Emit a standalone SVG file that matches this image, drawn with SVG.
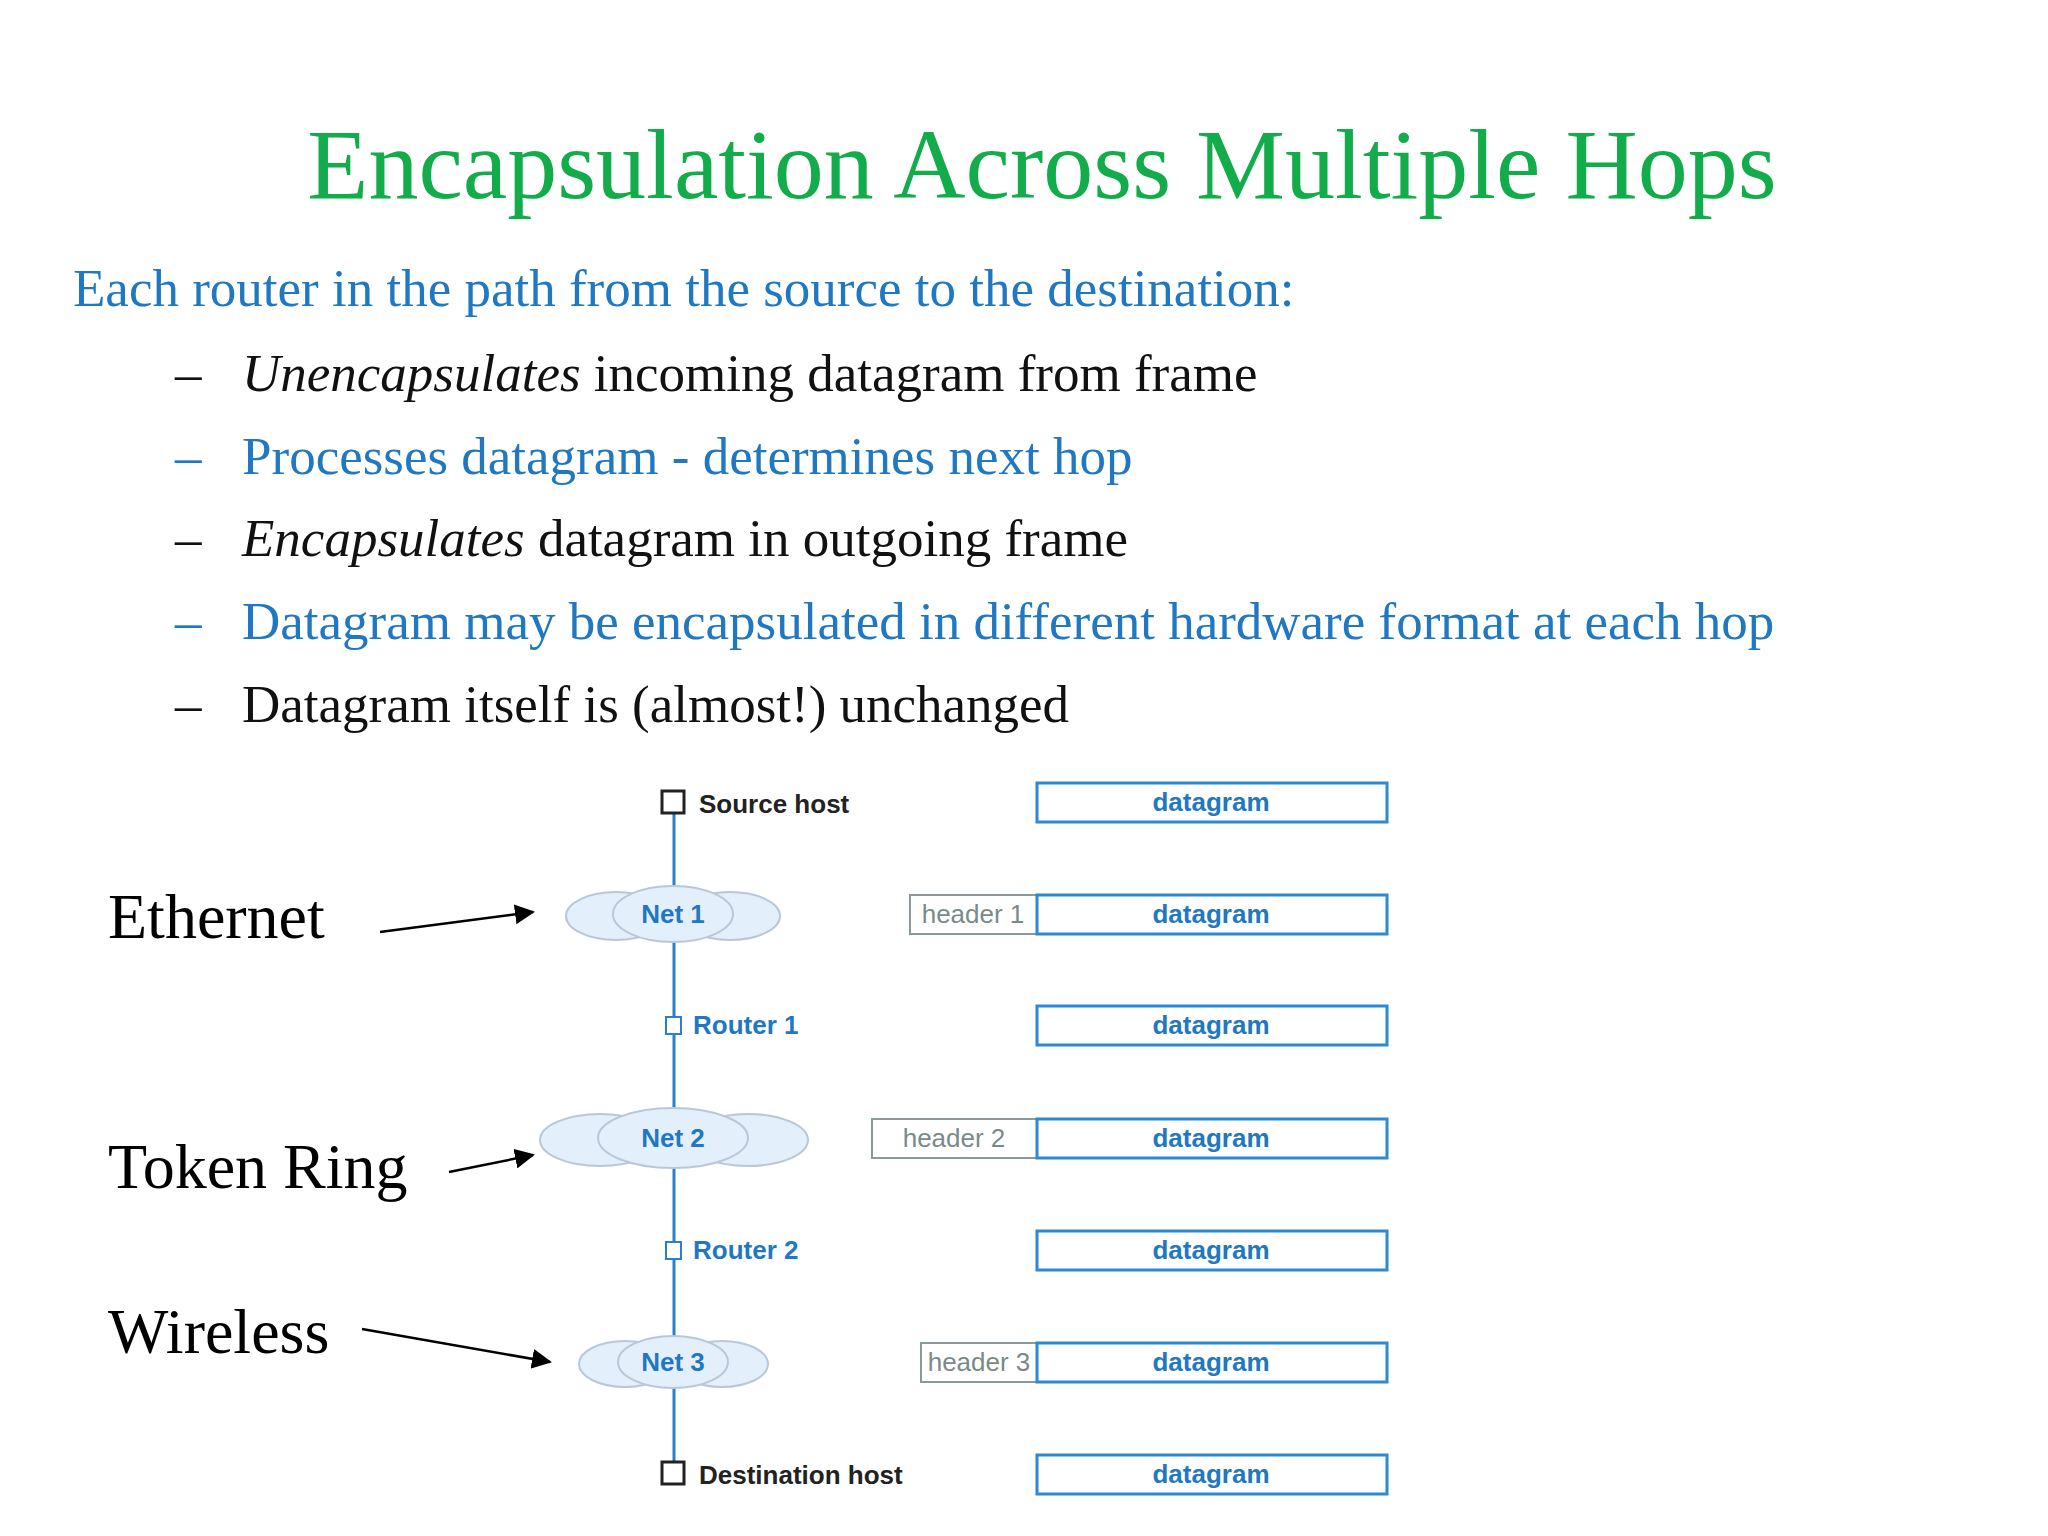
<svg xmlns="http://www.w3.org/2000/svg" width="2048" height="1536" viewBox="0 0 2048 1536">
<style>
.t{font-family:"Liberation Serif",serif}
.s{font-family:"Liberation Sans",Arial,sans-serif;font-weight:bold;font-size:26px}
.blk{fill:#111}.blu{fill:#1f78c1}
.dg{fill:#fff;stroke:#2a8ad6;stroke-width:3}
.hd{fill:#fff;stroke:#8a9a9a;stroke-width:2}
.cl{fill:#e3f0fb;stroke:#b8c8d8;stroke-width:2}
</style>
<defs><marker id="ar" viewBox="0 0 10 10" refX="9" refY="5" markerWidth="8" markerHeight="8" orient="auto"><path d="M0,0L10,5L0,10z" fill="#000"/></marker></defs>
<rect width="2048" height="1536" fill="#fff"/>
<text class="t" x="1042" y="198" text-anchor="middle" font-size="100" fill="#12ac4a">Encapsulation Across Multiple Hops</text>
<text class="t" x="73" y="306" font-size="53" fill="#1f78c1">Each router in the path from the source to the destination:</text>
<g class="t" font-size="53">
<text x="175" y="391" class="blk">–</text><text x="242" y="391" class="blk"><tspan font-style="italic">Unencapsulates</tspan> incoming datagram from frame</text>
<text x="175" y="474" class="blu">–</text><text x="242" y="474" class="blu">Processes datagram - determines next hop</text>
<text x="175" y="556" class="blk">–</text><text x="242" y="556" class="blk"><tspan font-style="italic">Encapsulates</tspan> datagram in outgoing frame</text>
<text x="175" y="639" class="blu">–</text><text x="242" y="639" class="blu">Datagram may be encapsulated in different hardware format at each hop</text>
<text x="175" y="722" class="blk">–</text><text x="242" y="722" class="blk">Datagram itself is (almost!) unchanged</text>
</g>
<g id="connectors"><line x1="674" y1="810" x2="674" y2="1464" stroke="#2a7fc8" stroke-width="3"/>
<line x1="380" y1="932" x2="533" y2="912" stroke="#000" stroke-width="2.5" marker-end="url(#ar)"/>
<line x1="449" y1="1172" x2="533" y2="1155" stroke="#000" stroke-width="2.5" marker-end="url(#ar)"/>
<line x1="362" y1="1329" x2="550" y2="1362" stroke="#000" stroke-width="2.5" marker-end="url(#ar)"/>
</g>
<g class="t" font-size="64" fill="#000">
<text x="108" y="938">Ethernet</text><text x="108" y="1188">Token Ring</text><text x="108" y="1353">Wireless</text>
</g>
<g id="src"><rect x="662" y="791" width="22" height="22" fill="#fff" stroke="#222" stroke-width="3"/><text class="s" x="699" y="813" fill="#222">Source host</text></g>
<g id="net1"><ellipse class="cl" cx="616" cy="916" rx="50" ry="24"/><ellipse class="cl" cx="730" cy="916" rx="50" ry="24"/><ellipse class="cl" cx="673" cy="914" rx="60" ry="28"/><text class="s" x="673" y="923" text-anchor="middle" fill="#1f78c1">Net 1</text></g>
<g id="r1"><rect x="666" y="1017" width="15" height="17" fill="#fff" stroke="#2a7fc8" stroke-width="2"/><text class="s" x="693" y="1034" fill="#1f78c1">Router 1</text></g>
<g id="net2"><ellipse class="cl" cx="600" cy="1140" rx="60" ry="26"/><ellipse class="cl" cx="748" cy="1140" rx="60" ry="26"/><ellipse class="cl" cx="673" cy="1138" rx="75" ry="30"/><text class="s" x="673" y="1147" text-anchor="middle" fill="#1f78c1">Net 2</text></g>
<g id="r2"><rect x="666" y="1242" width="15" height="17" fill="#fff" stroke="#2a7fc8" stroke-width="2"/><text class="s" x="693" y="1259" fill="#1f78c1">Router 2</text></g>
<g id="net3"><ellipse class="cl" cx="625" cy="1364" rx="46" ry="23"/><ellipse class="cl" cx="722" cy="1364" rx="46" ry="23"/><ellipse class="cl" cx="673" cy="1362" rx="55" ry="26"/><text class="s" x="673" y="1371" text-anchor="middle" fill="#1f78c1">Net 3</text></g>
<g id="dst"><rect x="662" y="1462" width="22" height="22" fill="#fff" stroke="#222" stroke-width="3"/><text class="s" x="699" y="1484" fill="#222">Destination host</text></g>
<g id="frames" class="s" fill="#1f78c1">
<g><rect class="dg" x="1037" y="783" width="350" height="39"/><text x="1211" y="811" text-anchor="middle">datagram</text></g>
<g><rect class="hd" x="910" y="895" width="127" height="39"/><text x="973" y="923" text-anchor="middle" fill="#7a8a8a" font-weight="normal">header 1</text><rect class="dg" x="1037" y="895" width="350" height="39"/><text x="1211" y="923" text-anchor="middle">datagram</text></g>
<g><rect class="dg" x="1037" y="1006" width="350" height="39"/><text x="1211" y="1034" text-anchor="middle">datagram</text></g>
<g><rect class="hd" x="872" y="1119" width="165" height="39"/><text x="954" y="1147" text-anchor="middle" fill="#7a8a8a" font-weight="normal">header 2</text><rect class="dg" x="1037" y="1119" width="350" height="39"/><text x="1211" y="1147" text-anchor="middle">datagram</text></g>
<g><rect class="dg" x="1037" y="1231" width="350" height="39"/><text x="1211" y="1259" text-anchor="middle">datagram</text></g>
<g><rect class="hd" x="921" y="1343" width="116" height="39"/><text x="979" y="1371" text-anchor="middle" fill="#7a8a8a" font-weight="normal">header 3</text><rect class="dg" x="1037" y="1343" width="350" height="39"/><text x="1211" y="1371" text-anchor="middle">datagram</text></g>
<g><rect class="dg" x="1037" y="1455" width="350" height="39"/><text x="1211" y="1483" text-anchor="middle">datagram</text></g>
</g>
</svg>
